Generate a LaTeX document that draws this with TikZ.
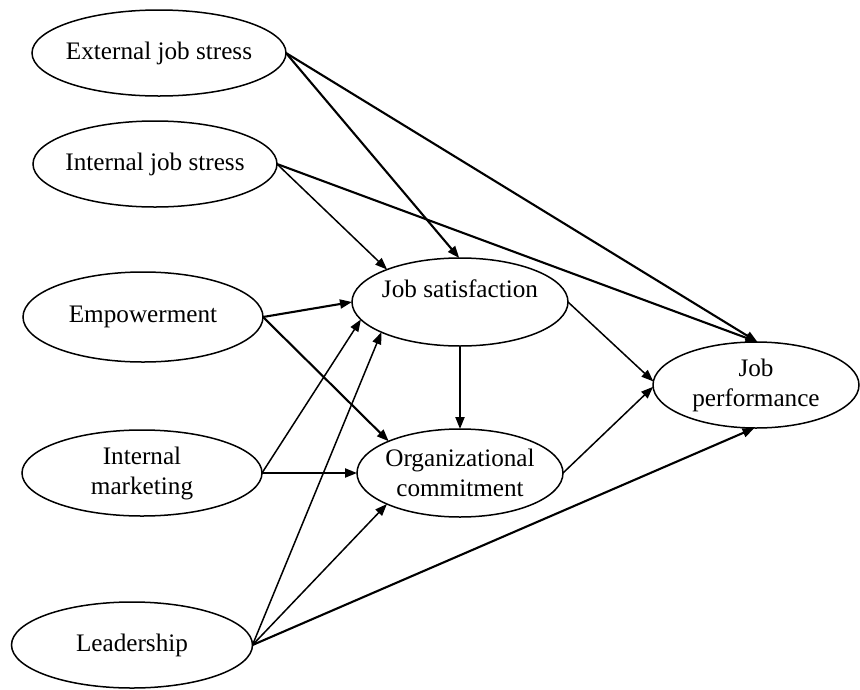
\documentclass[tikz,border=0pt]{standalone}
\usepackage{fontspec}
\setmainfont{Liberation Serif}
\usetikzlibrary{shapes.geometric,arrows.meta}
\newcommand{\zbox}[1]{\makebox[0pt][c]{#1}}
\begin{document}
\begin{tikzpicture}[x=1pt,y=-1pt,
  var/.style={ellipse, draw, line width=1.5pt, inner sep=0pt, outer sep=0pt,
    align=center, font=\fontsize{25.2}{30}\selectfont},
  lnk/.style={line width=1.5pt, -{Triangle[length=12pt,width=9pt]}},
  lnkb/.style={lnk, line width=2.1pt}]
\useasboundingbox (0,0) rectangle (860,689);

\node[var, minimum width=254pt, minimum height=86pt] (ext) at (159,53) {\zbox{External job stress}};
\node[var, minimum width=244pt, minimum height=86pt] (int) at (155,164) {\zbox{Internal job stress}};
\node[var, minimum width=240pt, minimum height=90pt] (emp) at (143,317) {\zbox{Empowerment}};
\node[var, minimum width=240pt, minimum height=86pt] (im) at (142,473) {\zbox{Internal}\\\zbox{marketing}};
\node[var, minimum width=241pt, minimum height=86pt] (lead) at (132,645) {\zbox{Leadership}};
\node[var, minimum width=216pt, minimum height=88pt] (js) at (460,302) {\raisebox{27pt}{\zbox{Job satisfaction}}};
\node[var, minimum width=206pt, minimum height=88pt] (oc) at (460,473) {\zbox{Organizational}\\\zbox{commitment}};
\node[var, minimum width=206pt, minimum height=86pt] (jp) at (756,385) {\zbox{Job}\\\zbox{performance}};

\draw[lnkb] (ext.east) -- (jp.88);
\draw[lnkb] (ext.east) -- (js.91);
\draw[lnk]  (int.east) -- (js.156);
\draw[lnkb] (int.east) -- (jp.88);
\draw[lnkb] (emp.east) -- (js.west);
\draw[lnkb] (emp.east) -- (oc.156);
\draw[lnkb] (im.east) -- (oc.west);
\draw[lnk]  (im.east) -- (js.190);
\draw[lnk]  (lead.east) -- (js.201);
\draw[lnk]  (lead.east) -- (oc.203);
\draw[lnkb] (lead.east) -- (jp.268);
\draw[lnkb] (js.south) -- (oc.north);
\draw[lnk]  (js.east) -- (jp.178);
\draw[lnk]  (oc.east) -- (jp.181);
\end{tikzpicture}
\end{document}
